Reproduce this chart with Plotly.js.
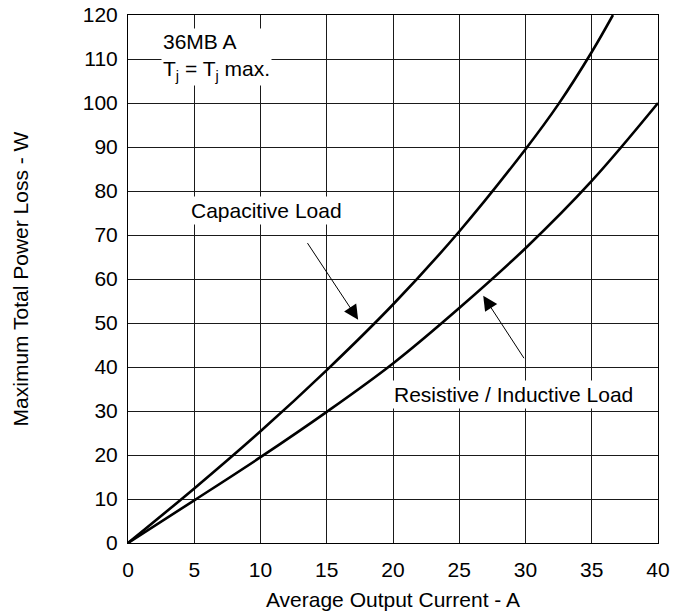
<!DOCTYPE html>
<html>
<head>
<meta charset="utf-8">
<script src="https://cdn.plot.ly/plotly-3.0.1.min.js"></script>
<style>html,body{margin:0;padding:0;background:#fff;}#chart{width:675px;height:613px;}</style>
</head>
<body>
<div id="chart"></div>
<script>
// Capacitive load curve (Average Output Current A -> Max Total Power Loss W)
const capCurrent = [0, 5, 10, 15, 20, 25, 30, 32.5, 35, 36.6];
const capPower   = [0, 12.4, 25.4, 39.3, 54.2, 70.8, 89.5, 99.8, 111.6, 120];
// Resistive / Inductive load curve
const resCurrent = [0, 5, 10, 15, 20, 25, 30, 35, 40];
const resPower   = [0, 9.7, 19.5, 29.8, 40.8, 53.4, 67.0, 82.3, 100];

const xTicks = [0, 5, 10, 15, 20, 25, 30, 35, 40];
const yTicks = [0, 10, 20, 30, 40, 50, 60, 70, 80, 90, 100, 110, 120];

const FONT = "Liberation Sans, Arial, Helvetica, sans-serif";

const traces = [
  {x: capCurrent, y: capPower, mode: 'lines', line: {color: '#000', width: 2.6, shape: 'spline', smoothing: 1}, hoverinfo: 'skip'},
  {x: resCurrent, y: resPower, mode: 'lines', line: {color: '#000', width: 2.6, shape: 'spline', smoothing: 1}, hoverinfo: 'skip'}
];

const axisCommon = {
  showgrid: true, gridcolor: '#1a1a1a', gridwidth: 1,
  showline: true, mirror: true, linecolor: '#000', linewidth: 1,
  zeroline: false, ticks: '', fixedrange: true,
  tickfont: {family: FONT, size: 21, color: '#000'}
};

const layout = {
  width: 675, height: 613,
  margin: {l: 128, r: 17, t: 15, b: 70},
  paper_bgcolor: '#fff', plot_bgcolor: '#fff',
  showlegend: false,
  font: {family: FONT, color: '#000'},
  xaxis: Object.assign({}, axisCommon, {
    range: [0, 40], tickvals: xTicks, ticklabelstandoff: 8,
    title: {text: 'Average Output Current - A', font: {family: FONT, size: 21, color: '#000'}, standoff: 12}
  }),
  yaxis: Object.assign({}, axisCommon, {
    range: [0, 120], tickvals: yTicks, ticklabelstandoff: 5,
    title: {text: 'Maximum Total Power Loss - W', font: {family: FONT, size: 21, color: '#000'}, standoff: 48}
  }),
  annotations: [
    {x: 2.47, y: 110.5, xref: 'x', yref: 'y', xanchor: 'left', yanchor: 'middle', align: 'left',
     text: '36MB A<br>T<sub>j</sub> = T<sub>j</sub> max.', showarrow: false,
     bgcolor: '#fff', borderpad: 1, font: {family: FONT, size: 21, color: '#000'}},
    {x: 10.45, y: 75.6, xref: 'x', yref: 'y', xanchor: 'center', yanchor: 'middle',
     text: 'Capacitive Load', showarrow: false, bgcolor: '#fff', borderpad: 2,
     font: {family: FONT, size: 21, color: '#000'}},
    {x: 29.13, y: 33.7, xref: 'x', yref: 'y', xanchor: 'center', yanchor: 'middle',
     text: 'Resistive / Inductive Load', showarrow: false, bgcolor: '#fff', borderpad: 2,
     font: {family: FONT, size: 21, color: '#000'}},
    {x: 17.37, y: 50.75, ax: 13.47, ay: 68.5, xref: 'x', yref: 'y', axref: 'x', ayref: 'y',
     text: '', showarrow: true, arrowhead: 2, arrowsize: 2.9, arrowwidth: 1, arrowcolor: '#000', standoff: 0},
    {x: 26.81, y: 56.2, ax: 29.96, ay: 41.66, xref: 'x', yref: 'y', axref: 'x', ayref: 'y',
     text: '', showarrow: true, arrowhead: 2, arrowsize: 2.9, arrowwidth: 1, arrowcolor: '#000', standoff: 0}
  ]
};

Plotly.newPlot('chart', traces, layout, {displayModeBar: false, staticPlot: true});
</script>
</body>
</html>
